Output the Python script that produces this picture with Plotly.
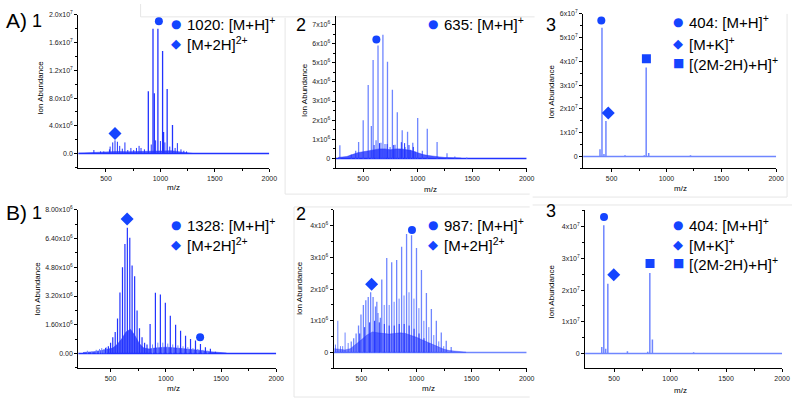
import plotly.graph_objects as go

W, H = 800, 400
DARK = "#2233ff"
LIGHT = "#6f86ff"
MARK = "#1444ff"
FONT = "Liberation Sans, Arial, sans-serif"

# ---------------- data (m/z, intensity) ----------------
# A1
A1_major_mz = [889, 932, 944, 977, 1020, 1029, 1062, 1111]
A1_major_int = [9.0e6, 1.8e7, 8.7e6, 1.8e7, 1.48e7, 3.1e6, 9.3e6, 4.1e6]
A1_minor_mz = [389, 450, 480, 532, 538, 562, 583, 605, 626, 650, 674, 700, 729, 755, 780, 804,
               822, 853, 916, 956, 1000, 1041, 1086, 1135, 1156, 1189, 1215, 1240]
A1_minor_int = [0.5e6, 0.3e6, 0.3e6, 0.6e6, 1.0e6, 1.6e6, 1.9e6, 1.7e6, 1.1e6, 0.7e6, 1.6e6, 0.5e6,
                0.8e6, 0.5e6, 0.8e6, 1.1e6, 0.8e6, 0.6e6, 1.3e6, 1.9e6, 1.8e6, 1.6e6, 1.0e6, 0.8e6,
                1.5e6, 0.6e6, 0.4e6, 0.3e6]
A1_env_mz = [250, 300, 400, 500, 550, 600, 700, 800, 880, 900, 1000, 1100, 1150, 1200, 1260, 1300]
A1_env_int = [0.05e6, 0.1e6, 0.15e6, 0.2e6, 0.35e6, 0.3e6, 0.25e6, 0.3e6, 0.3e6, 0.4e6, 0.45e6,
              0.4e6, 0.3e6, 0.2e6, 0.05e6, 0.0]
A1_marks = {"circle": (986, 1.91e7), "diamond": (583, 2.9e6)}

# A2
A2_light_mz = [286, 391, 431, 458, 500, 546, 575, 591, 618, 636, 663, 681, 700, 723, 747, 768, 792,
               813, 838, 858, 884, 907, 932, 955, 977, 1000, 1043, 1088, 1178, 1269, 1341, 1450]
A2_light_int = [0.69e6, 0.2e6, 0.4e6, 0.86e6, 2.0e6, 3.84e6, 1.69e6, 5.14e6, 0.95e6, 5.9e6, 0.82e6,
                6.47e6, 0.75e6, 5.05e6, 0.6e6, 3.59e6, 0.72e6, 2.41e6, 0.5e6, 1.47e6, 0.6e6, 1.4e6,
                0.45e6, 0.82e6, 0.35e6, 2.12e6, 0.4e6, 1.55e6, 0.86e6, 0.27e6, 0.1e6, 0.05e6]
A2_dark_mz = [600, 650, 720, 780, 850, 880, 920, 960]
A2_dark_int = [0.7e6, 0.8e6, 0.75e6, 0.7e6, 0.85e6, 0.8e6, 0.7e6, 0.6e6]
A2_env_mz = [270, 350, 400, 450, 500, 550, 600, 650, 700, 750, 800, 850, 900, 950, 1000, 1050,
             1100, 1150, 1200, 1250, 1300, 1400]
A2_env_int = [0.05e6, 0.1e6, 0.2e6, 0.3e6, 0.35e6, 0.4e6, 0.45e6, 0.5e6, 0.5e6, 0.45e6, 0.5e6,
              0.5e6, 0.45e6, 0.4e6, 0.3e6, 0.2e6, 0.15e6, 0.1e6, 0.08e6, 0.05e6, 0.03e6, 0.02e6]
A2_marks = {"circle": (621, 6.22e6)}

# A3
A3_mz = [301, 394, 412, 430, 448, 622, 798, 815, 838, 1219]
A3_int = [0.02e7, 0.3e7, 5.42e7, 0.1e7, 1.49e7, 0.05e7, 0.05e7, 3.74e7, 0.15e7, 0.05e7]
A3_marks = {"circle": (406, 5.72e7), "diamond": (469, 1.83e7), "square": (817, 4.11e7)}

# B1
B1_2plus_mz = [455, 480, 500, 520, 542, 563, 585, 608, 630, 652, 674, 695, 718, 740, 762, 785, 808, 830]
B1_2plus_int = [0.3e6, 0.4e6, 0.6e6, 0.9e6, 1.2e6, 1.95e6, 3.4e6, 4.8e6, 6.1e6, 7.0e6, 6.45e6, 4.9e6,
                4.3e6, 2.4e6, 1.4e6, 0.9e6, 0.6e6, 0.5e6]
B1_1plus_mz = [858, 906, 951, 996, 1041, 1089, 1134, 1179, 1224, 1269, 1314, 1359, 1404, 1450]
B1_1plus_int = [1.64e6, 3.38e6, 3.29e6, 2.83e6, 2.1e6, 1.6e6, 1.27e6, 0.99e6, 0.81e6, 0.72e6,
                0.53e6, 0.35e6, 0.26e6, 0.1e6]
B1_minor_mz = [290, 330, 370, 400, 420, 440, 460, 880, 928, 973, 1018, 1063, 1110, 1156, 1200,
               1246, 1290, 1336, 1380]
B1_minor_int = [0.15e6, 0.1e6, 0.2e6, 0.25e6, 0.3e6, 0.25e6, 0.35e6, 0.5e6, 0.6e6, 0.6e6, 0.55e6,
                0.5e6, 0.45e6, 0.4e6, 0.35e6, 0.3e6, 0.25e6, 0.2e6, 0.15e6]
B1_env_mz = [250, 350, 450, 520, 560, 600, 640, 680, 720, 760, 800, 850, 900, 1000, 1100, 1200,
             1300, 1400, 1480, 1550]
B1_env_int = [0.05e6, 0.1e6, 0.2e6, 0.3e6, 0.5e6, 0.8e6, 1.2e6, 1.35e6, 1.0e6, 0.55e6, 0.3e6, 0.25e6,
              0.3e6, 0.35e6, 0.3e6, 0.25e6, 0.18e6, 0.1e6, 0.05e6, 0.02e6]
B1_marks = {"circle": (1311, 0.9e6), "diamond": (650, 7.49e6)}

# B2
B2_2plus_mz = [408, 430, 452, 474, 496, 518, 540, 562, 584, 606, 628, 650, 672]
B2_2plus_int = [0.35e6, 0.45e6, 0.6e6, 0.85e6, 1.2e6, 1.5e6, 1.65e6, 1.75e6, 1.9e6, 1.75e6,
                1.45e6, 1.25e6, 1.1e6]
B2_1plus_mz = [640, 685, 730, 775, 820, 865, 910, 955, 1000, 1045, 1090, 1135, 1180, 1225, 1270, 1315]
B2_1plus_int = [1.6e6, 2.3e6, 2.98e6, 2.85e6, 2.92e6, 3.34e6, 3.74e6, 3.7e6, 3.3e6, 2.6e6, 1.88e6,
                1.37e6, 1.0e6, 0.63e6, 0.37e6, 0.17e6]
B2_mid_mz = [265, 286, 310, 330, 352, 380, 707, 752, 797, 842, 887, 932, 977, 1022, 1067, 1112,
             1157, 1202, 1247]
B2_mid_int = [0.25e6, 1.0e6, 0.2e6, 0.2e6, 0.63e6, 0.3e6, 1.5e6, 1.5e6, 1.6e6, 1.7e6, 1.8e6, 1.9e6,
              1.7e6, 1.4e6, 1.0e6, 0.8e6, 0.55e6, 0.35e6, 0.2e6]
B2_dark_mz = [485, 530, 575, 620, 662, 708, 752, 798, 843, 888, 933, 978, 1023, 1068, 1113]
B2_dark_int = [0.6e6, 0.8e6, 0.95e6, 1.0e6, 0.95e6, 0.9e6, 0.85e6, 0.85e6, 0.9e6, 0.9e6, 0.85e6,
               0.75e6, 0.6e6, 0.45e6, 0.3e6]
B2_env_mz = [255, 300, 350, 400, 450, 500, 550, 600, 650, 700, 750, 800, 850, 900, 950, 1000, 1050,
             1100, 1150, 1200, 1250, 1300, 1350, 1400, 1450]
B2_env_int = [0.12e6, 0.1e6, 0.08e6, 0.12e6, 0.25e6, 0.4e6, 0.55e6, 0.65e6, 0.62e6, 0.6e6, 0.58e6,
              0.6e6, 0.62e6, 0.6e6, 0.55e6, 0.48e6, 0.4e6, 0.32e6, 0.24e6, 0.16e6, 0.1e6, 0.06e6,
              0.04e6, 0.02e6, 0.01e6]
B2_marks = {"circle": (959, 3.87e6), "diamond": (593, 2.15e6)}

# B3
B3_mz = [390, 408, 425, 444, 619, 800, 819, 842, 1210]
B3_int = [0.2e7, 4.05e7, 0.15e7, 2.2e7, 0.07e7, 0.05e7, 2.54e7, 0.44e7, 0.04e7]
B3_marks = {"circle": (410, 4.31e7), "diamond": (497, 2.48e7), "square": (821, 2.84e7)}

# tick labels
A1_yt = [0, 4e6, 8e6, 1.2e7, 1.6e7, 2.0e7]
A1_ytext = ["0.0", "4.0x10<sup>6</sup>", "8.0x10<sup>6</sup>", "1.2x10<sup>7</sup>",
            "1.6x10<sup>7</sup>", "2.0x10<sup>7</sup>"]
A2_yt = [0, 1e6, 2e6, 3e6, 4e6, 5e6, 6e6, 7e6]
A2_ytext = ["0"] + ["%dx10<sup>6</sup>" % k for k in range(1, 8)]
A3_yt = [0, 1e7, 2e7, 3e7, 4e7, 5e7, 6e7]
A3_ytext = ["0"] + ["%dx10<sup>7</sup>" % k for k in range(1, 7)]
B1_yt = [0, 1.6e6, 3.2e6, 4.8e6, 6.4e6, 8.0e6]
B1_ytext = ["0.00", "1.60x10<sup>6</sup>", "3.20x10<sup>6</sup>", "4.80x10<sup>6</sup>",
            "6.40x10<sup>6</sup>", "8.00x10<sup>6</sup>"]
B2_yt = [0, 1e6, 2e6, 3e6, 4e6]
B2_ytext = ["0"] + ["%dx10<sup>6</sup>" % k for k in range(1, 5)]
B3_yt = [0, 1e7, 2e7, 3e7, 4e7]
B3_ytext = ["0"] + ["%dx10<sup>7</sup>" % k for k in range(1, 5)]
X_TICKS = [500, 1000, 1500, 2000]

# legend texts
A1_leg = ["1020: [M+H]<sup>+</sup>", "[M+2H]<sup>2+</sup>"]
A2_leg = ["635: [M+H]<sup>+</sup>"]
A3_leg = ["404: [M+H]<sup>+</sup>", "[M+K]<sup>+</sup>", "[(2M-2H)+H]<sup>+</sup>"]
B1_leg = ["1328: [M+H]<sup>+</sup>", "[M+2H]<sup>2+</sup>"]
B2_leg = ["987: [M+H]<sup>+</sup>", "[M+2H]<sup>2+</sup>"]
B3_leg = ["404: [M+H]<sup>+</sup>", "[M+K]<sup>+</sup>", "[(2M-2H)+H]<sup>+</sup>"]

# ---------------- layout geometry (pixels) ----------------
panels = [
    dict(dx=(79, 272), dy=(11, 166), xr=(245, 2000), yr=(-2.14e6, 2.0e7), yt=A1_yt, ytx=A1_ytext,
         ymin=2e6),
    dict(dx=(339, 532), dy=(12, 166), xr=(247, 2000), yr=(-0.517e6, 7.45e6), yt=A2_yt, ytx=A2_ytext,
         ymin=0.5e6),
    dict(dx=(589, 784), dy=(10, 166), xr=(240, 2000), yr=(-0.5e7, 6.0e7), yt=A3_yt, ytx=A3_ytext,
         ymin=0.5e7),
    dict(dx=(79, 279), dy=(208, 368), xr=(207, 2000), yr=(-0.83e6, 8.0e6), yt=B1_yt, ytx=B1_ytext,
         ymin=0.8e6),
    dict(dx=(337, 532), dy=(208, 368), xr=(248, 2000), yr=(-0.5e6, 4.5e6), yt=B2_yt, ytx=B2_ytext,
         ymin=0.5e6),
    dict(dx=(591, 790), dy=(208, 368), xr=(241, 2000), yr=(-0.47e7, 4.53e7), yt=B3_yt, ytx=B3_ytext,
         ymin=0.5e7),
]


def sticks(mz, inten):
    xs, ys = [], []
    for m, h in zip(mz, inten):
        xs += [m, m, None]
        ys += [0, h, None]
    return xs, ys


fig = go.Figure()


def ax(i):
    return ("x" if i == 1 else "x%d" % i), ("y" if i == 1 else "y%d" % i)


def add_baseline(i, xr, color):
    xa, ya = ax(i)
    fig.add_trace(go.Scatter(x=[xr[0], xr[1]], y=[0, 0], mode="lines",
                             line=dict(color=color, width=1.5), xaxis=xa, yaxis=ya,
                             showlegend=False, hoverinfo="skip"))


def add_env(i, mz, inten, color):
    xa, ya = ax(i)
    fig.add_trace(go.Scatter(x=mz, y=inten, mode="lines", fill="tozeroy", fillcolor=color,
                             line=dict(color=color, width=0.6), xaxis=xa, yaxis=ya,
                             showlegend=False, hoverinfo="skip"))


def add_sticks(i, mz, inten, color, width=1.0):
    xa, ya = ax(i)
    xs, ys = sticks(mz, inten)
    fig.add_trace(go.Scatter(x=xs, y=ys, mode="lines", line=dict(color=color, width=width),
                             xaxis=xa, yaxis=ya, showlegend=False, hoverinfo="skip"))


SYM = {"circle": ("circle", 8), "diamond": ("diamond", 10), "square": ("square", 9)}


def add_marks(i, marks):
    xa, ya = ax(i)
    for k, (mx, my) in marks.items():
        fig.add_trace(go.Scatter(x=[mx], y=[my], mode="markers",
                                 marker=dict(symbol=SYM[k][0], size=SYM[k][1], color=MARK,
                                             line=dict(width=0)),
                                 xaxis=xa, yaxis=ya, showlegend=False, hoverinfo="skip"))


GRASS = "rgba(34,51,255,0.8)"
# A1
add_env(1, A1_env_mz, A1_env_int, GRASS)
add_baseline(1, panels[0]["xr"], DARK)
add_sticks(1, A1_minor_mz, A1_minor_int, DARK, 1.0)
add_sticks(1, A1_major_mz, A1_major_int, DARK, 1.3)
add_marks(1, A1_marks)
# A2
add_baseline(2, panels[1]["xr"], DARK)
add_sticks(2, A2_light_mz, A2_light_int, LIGHT, 1.3)
add_env(2, A2_env_mz, A2_env_int, GRASS)
add_sticks(2, A2_dark_mz, A2_dark_int, DARK, 1.0)
add_marks(2, A2_marks)
# A3
add_baseline(3, panels[2]["xr"], LIGHT)
add_sticks(3, A3_mz, A3_int, LIGHT, 1.5)
add_marks(3, A3_marks)
# B1
add_env(4, B1_env_mz, B1_env_int, GRASS)
add_baseline(4, panels[3]["xr"], DARK)
add_sticks(4, B1_minor_mz, B1_minor_int, LIGHT, 1.0)
add_sticks(4, B1_2plus_mz, B1_2plus_int, DARK, 1.2)
add_sticks(4, B1_1plus_mz, B1_1plus_int, DARK, 1.2)
add_marks(4, B1_marks)
# B2
add_baseline(5, panels[4]["xr"], LIGHT)
add_sticks(5, B2_mid_mz, B2_mid_int, LIGHT, 1.0)
add_sticks(5, B2_2plus_mz, B2_2plus_int, LIGHT, 1.3)
add_sticks(5, B2_1plus_mz, B2_1plus_int, LIGHT, 1.3)
add_env(5, B2_env_mz, B2_env_int, "rgba(34,51,255,0.6)")
add_sticks(5, B2_dark_mz, B2_dark_int, DARK, 1.0)
add_marks(5, B2_marks)
# B3
add_baseline(6, panels[5]["xr"], LIGHT)
add_sticks(6, B3_mz, B3_int, LIGHT, 1.5)
add_marks(6, B3_marks)

# axes
tickfont = dict(family=FONT, size=7, color="#222")
for i, p in enumerate(panels, start=1):
    xk = "xaxis" if i == 1 else "xaxis%d" % i
    yk = "yaxis" if i == 1 else "yaxis%d" % i
    xa, ya = ax(i)
    fig.layout[xk] = dict(
        domain=[p["dx"][0] / W, p["dx"][1] / W], anchor=ya, range=list(p["xr"]),
        showline=True, linecolor="black", linewidth=1, ticks="outside", ticklen=3,
        tickcolor="black", tickmode="array", tickvals=X_TICKS,
        ticktext=[str(v) for v in X_TICKS], tickfont=tickfont, showgrid=False,
        zeroline=False, fixedrange=True,
        minor=dict(tickvals=[750, 1250, 1750], ticks="outside", ticklen=2, tickcolor="black"))
    fig.layout[yk] = dict(
        domain=[1 - p["dy"][1] / H, 1 - p["dy"][0] / H], anchor=xa, range=list(p["yr"]),
        showline=True, linecolor="black", linewidth=1, ticks="outside", ticklen=3,
        tickcolor="black", tickmode="array", tickvals=p["yt"], ticktext=p["ytx"],
        tickfont=tickfont, showgrid=False, zeroline=False, fixedrange=True,
        minor=dict(dtick=p["ymin"], tick0=0, ticks="outside", ticklen=2, tickcolor="black"))

ann = []


def txt(x, y, s, size, xanchor="center", color="black", angle=0, family=FONT):
    ann.append(dict(x=x / W, y=1 - y / H, xref="paper", yref="paper", text=s, showarrow=False,
                    xanchor=xanchor, yanchor="middle", textangle=angle,
                    font=dict(family=family, size=size, color=color)))


# panel labels
txt(17, 17, "A)", 21)
txt(37, 17, "1", 18)
txt(304, 21, "2", 18)
txt(557, 21, "3", 18)
txt(17, 211, "B)", 21)
txt(37, 211, "1", 18)
txt(304, 212, "2", 18)
txt(557, 209, "3", 18)

# axis titles
for (x, y) in [(41, 85), (307, 87), (557, 88), (37, 288), (302, 287), (557, 290)]:
    txt(x, y, "Ion Abundance", 8, angle=-90)
for (x, y) in [(175, 185), (435, 187), (687, 186), (175, 388), (433, 388), (687, 390)]:
    txt(x, y, "m/z", 8)

# legends
GLYPH = {"circle": ("\u25cf", 12), "diamond": ("\u25c6", 13), "square": ("\u25a0", 12)}


def legend(x, ys, labels, kinds):
    for y, lab, k in zip(ys, labels, kinds):
        g, gs = GLYPH[k]
        txt(x, y, g, gs, color=MARK, family="DejaVu Sans")
        txt(x + 9, y, lab, 15, xanchor="left")


legend(178, [20, 40], A1_leg, ["circle", "diamond"])
legend(437, [20], A2_leg, ["circle"])
legend(685, [18, 40, 60], A3_leg, ["circle", "diamond", "square"])
legend(178, [223, 243], B1_leg, ["circle", "diamond"])
legend(437, [223, 243], B2_leg, ["circle", "diamond"])
legend(685, [223, 243, 262], B3_leg, ["circle", "diamond", "square"])

# faint panel frames from the composite figure
shapes = []
FR = "#e6e6e6"


def seg(x0, y0, x1, y1):
    shapes.append(dict(type="line", xref="paper", yref="paper", x0=x0 / W, y0=1 - y0 / H,
                       x1=x1 / W, y1=1 - y1 / H, line=dict(color=FR, width=1), layer="below"))


seg(142, 0, 142, 13)
seg(142, 13, 540, 13)
seg(288, 14, 288, 192)
seg(288, 192, 535, 192)
seg(795, 10, 795, 195)
seg(538, 195, 795, 195)
seg(297, 205, 297, 397)
seg(297, 397, 535, 397)
seg(297, 205, 535, 205)
seg(538, 203, 800, 203)

fig.update_layout(width=W, height=H, margin=dict(l=0, r=0, t=0, b=0), plot_bgcolor="white",
                  paper_bgcolor="white", showlegend=False, annotations=ann, shapes=shapes,
                  font=dict(family=FONT))
fig.write_html("out.html", config={"displayModeBar": False},
               post_script="document.body.style.margin='0';")
